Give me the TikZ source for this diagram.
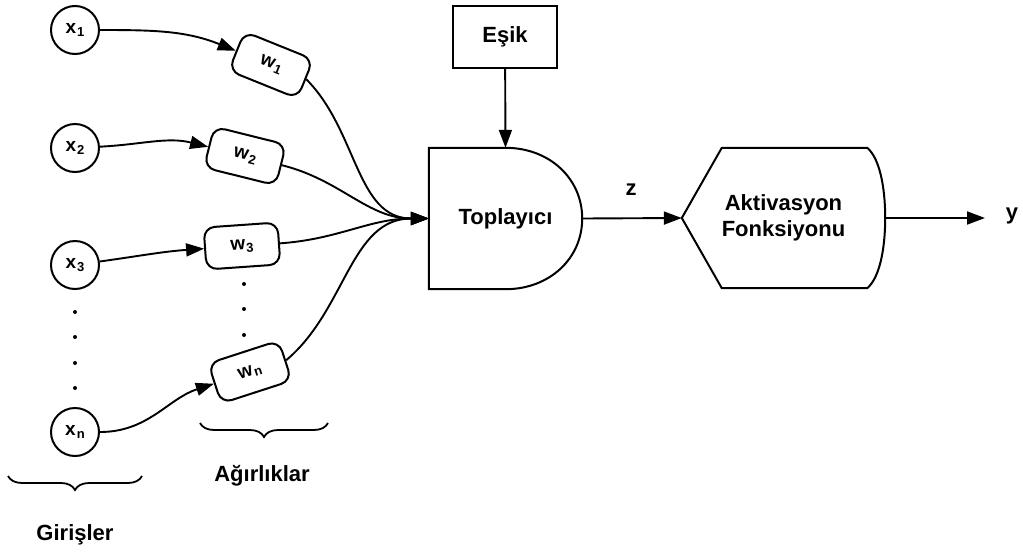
\documentclass[tikz,border=0pt]{standalone}
\usepackage{fontspec}
\setmainfont{Liberation Sans}
\usetikzlibrary{arrows.meta}
\usetikzlibrary{decorations.pathreplacing}

\begin{document}
\begin{tikzpicture}[x=1pt,y=1pt]
            \tikzstyle{link}=[draw=black,line width=1.9pt,-{Triangle[length=18pt,width=13pt]}]
            \tikzstyle{input}=[circle,line width=2pt,draw=black,fill=white,minimum size=48pt,inner sep=0pt,font=\fontsize{19}{19}\selectfont\bfseries]
            \tikzstyle{weight}=[rectangle,rounded corners=11pt,line width=2pt,draw=black,fill=white,minimum width=74pt,minimum height=42pt,inner sep=0pt,font=\fontsize{19}{19}\selectfont\bfseries]
            \tikzstyle{txt}=[inner sep=0pt,font=\fontsize{22}{26}\selectfont\bfseries]
            \tikzstyle{dot}=[circle,fill=black,inner sep=0pt,minimum size=4pt]
            \tikzstyle{curly}=[draw=black,line width=1.8pt,decorate,decoration={brace,amplitude=14pt,mirror}]

            \def\lowsub#1{\kern1pt\raisebox{-3pt}{\fontsize{13}{13}\selectfont#1}}
            \def\xc{75}
            \def\wc{244}

            \useasboundingbox (0,0) rectangle (1023,-552);

            % inputs
            \node[input] (x1) at (\xc,-30)  {x\lowsub{1}};
            \node[input] (x2) at (\xc,-148) {x\lowsub{2}};
            \node[input] (x3) at (\xc,-265) {x\lowsub{3}};
            \node[input] (xn) at (\xc,-432) {x\lowsub{n}};
            \foreach \y [count=\i] in {312,337,363,388}
                \node[dot] (xd\i) at (\xc,-\y) {};

            % weights
            \node[weight,rotate=-22] (w1) at (271,-65)  {w\lowsub{1}};
            \node[weight,rotate=-14] (w2) at (245,-156) {w\lowsub{2}};
            \node[weight,rotate=4]   (w3) at (242,-246) {w\lowsub{3}};
            \node[weight,rotate=18]  (wn) at (250,-372) {w\lowsub{n}};
            \foreach \y [count=\i] in {284,309,335}
                \node[dot] (wd\i) at (\wc,-\y) {};

            % summation
            \node[txt,minimum width=153pt,minimum height=141pt] (sum) at (505.5,-218.5) {Toplayıcı};
            \draw[line width=2pt] (sum.north west) -- (sum.north)
                .. controls +(44,0) and +(0,40) .. (sum.east)
                .. controls +(0,-40) and +(44,0) .. (sum.south) -- (sum.south west) -- cycle;

            \node[txt,draw,line width=2pt,minimum width=104pt,minimum height=62pt] (esik) at (505,-37) {Eşik};

            % activation
            \node[txt,align=center,minimum width=203pt,minimum height=140pt] (act) at (783.5,-218) {Aktivasyon\\Fonksiyonu};
            \draw[line width=2pt] (act.west) -- ([xshift=40pt]act.north west) -- ([xshift=-18pt]act.north east)
                .. controls +(12,-10) and +(0,32) .. (act.east)
                .. controls +(0,-32) and +(12,10) .. ([xshift=-18pt]act.south east)
                -- ([xshift=40pt]act.south west) -- cycle;

            \node[txt] (z) at (631,-190) {z};
            \node[txt] (y) at (1012,-216) {y};
            \coordinate (yend) at (985,-218);

            \path[link] (x1) to[out=0,in=158] (w1.west);
            \path[link] (x2) to[out=3,in=166] (w2.west);
            \path[link] (x3) to[out=8,in=184] (w3.west);
            \path[link] (xn) to[out=0,in=198] (wn.west);

            \path[link] (w1.east) to[out=-45,in=180] (sum.west);
            \path[link] (w2.east) to[out=-14,in=180] (sum.west);
            \path[link] (w3.east) to[out=4,in=180] (sum.west);
            \path[link] (wn.east) to[out=40,in=180] (sum.west);

            \path[link] (esik) -- (sum.north);
            \path[link] (sum.east) -- (act.west);
            \path[link] (act.east) -- (yend);

            % braces
            \coordinate (wbl) at (200,-423);
            \coordinate (wbr) at (328,-423);
            \coordinate (xbl) at (8,-476);
            \coordinate (xbr) at (142,-476);
            \draw[curly] (wbl) -- (wbr);
            \draw[curly] (xbl) -- (xbr);
            \node[txt] (wlab) at (262,-476) {Ağırlıklar};
            \node[txt] (xlab) at (\xc,-535) {Girişler};
        \end{tikzpicture}
\end{document}
